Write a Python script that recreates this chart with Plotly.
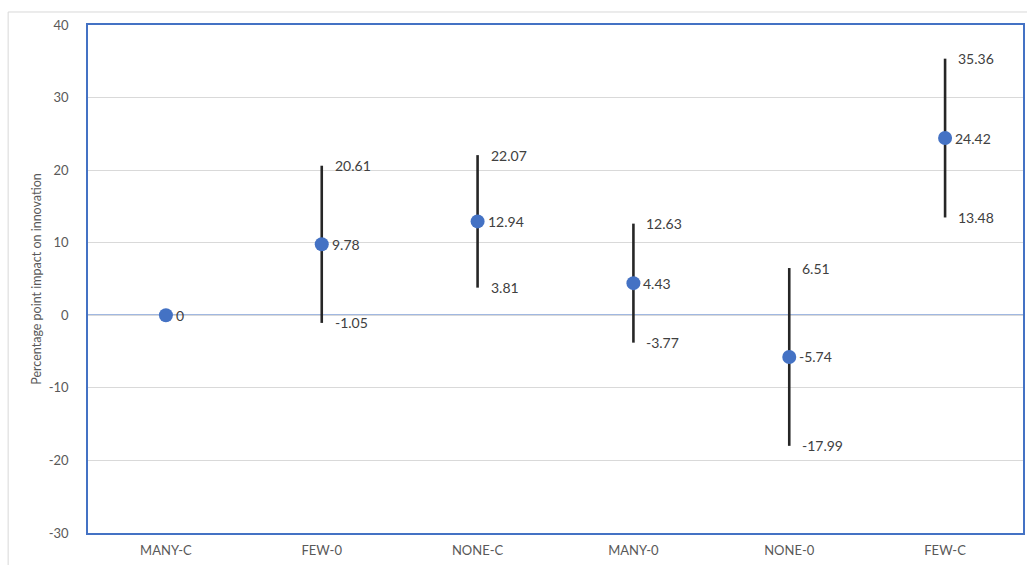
import plotly.graph_objects as go

# Estimated impact (percentage points) with lower / upper bounds per group
categories = ["MANY-C", "FEW-0", "NONE-C", "MANY-0", "NONE-0", "FEW-C"]
estimate = [0, 9.78, 12.94, 4.43, -5.74, 24.42]
lower = [0, -1.05, 3.81, -3.77, -17.99, 13.48]
upper = [0, 20.61, 22.07, 12.63, 6.51, 35.36]
y_ticks = [40, 30, 20, 10, 0, -10, -20, -30]

BLUE = "#4472C4"
GREY_TEXT = "#595959"
LABEL_TEXT = "#404040"
FONT = "Lato, Open Sans, sans-serif"

fig = go.Figure()

fig.add_trace(go.Scatter(
    x=categories,
    y=estimate,
    mode="markers",
    marker=dict(color=BLUE, size=14, line=dict(width=0)),
    error_y=dict(
        type="data",
        symmetric=False,
        array=[u - e for u, e in zip(upper, estimate)],
        arrayminus=[e - l for e, l in zip(estimate, lower)],
        width=0,
        thickness=2.6,
        color="#262626",
    ),
    showlegend=False,
    hoverinfo="skip",
))


def fmt(v):
    return "0" if v == 0 else f"{v:.2f}"


annotations = []
for i, cat in enumerate(categories):
    annotations.append(dict(
        x=cat, y=estimate[i], text=fmt(estimate[i]), showarrow=False,
        xanchor="left", yanchor="middle", xshift=8,
        font=dict(family=FONT, size=14, color=LABEL_TEXT),
    ))
    if upper[i] != lower[i]:
        for v in (upper[i], lower[i]):
            annotations.append(dict(
                x=cat, y=v, text=fmt(v), showarrow=False,
                xanchor="left", yanchor="middle", xshift=11,
                font=dict(family=FONT, size=14, color=LABEL_TEXT),
            ))

# Light outer frame of the chart area (left and top edges)
shapes = [
    dict(type="line", xref="paper", yref="paper", x0=-0.0854, x1=-0.0854,
         y0=-0.07, y1=1.0256, line=dict(color="#d9d9d9", width=1)),
    dict(type="line", xref="paper", yref="paper", x0=-0.0854, x1=1.01,
         y0=1.0256, y1=1.0256, line=dict(color="#d9d9d9", width=1)),
    # horizontal axis crossing at zero
    dict(type="line", xref="paper", yref="y", x0=0, x1=1, y0=0, y1=0,
         line=dict(color=BLUE, width=1.5), layer="below"),
]

fig.update_layout(
    width=1027,
    height=565,
    margin=dict(l=88, r=2, t=25, b=32),
    paper_bgcolor="white",
    plot_bgcolor="white",
    font=dict(family=FONT, size=13, color=GREY_TEXT),
    annotations=annotations,
    shapes=shapes,
    xaxis=dict(
        type="category",
        categoryorder="array",
        categoryarray=categories,
        range=[-0.5, len(categories) - 0.5],
        showgrid=False,
        showline=True,
        mirror=True,
        linecolor=BLUE,
        linewidth=1.5,
        ticks="",
        ticklabelstandoff=5,
        tickfont=dict(family=FONT, size=13, color=GREY_TEXT),
        zeroline=False,
    ),
    yaxis=dict(
        range=[-30, 40],
        tickvals=y_ticks,
        ticktext=[str(v) for v in y_ticks],
        showgrid=True,
        gridcolor="#d9d9d9",
        gridwidth=1,
        zeroline=False,
        showline=True,
        mirror=True,
        linecolor=BLUE,
        linewidth=1.5,
        ticks="",
        ticklabelstandoff=15,
        tickfont=dict(family=FONT, size=13, color=GREY_TEXT),
        title=dict(text="Percentage point impact on innovation",
                   font=dict(family=FONT, size=12.5, color=GREY_TEXT),
                   standoff=4),
    ),
)

fig.write_html("out.html")
